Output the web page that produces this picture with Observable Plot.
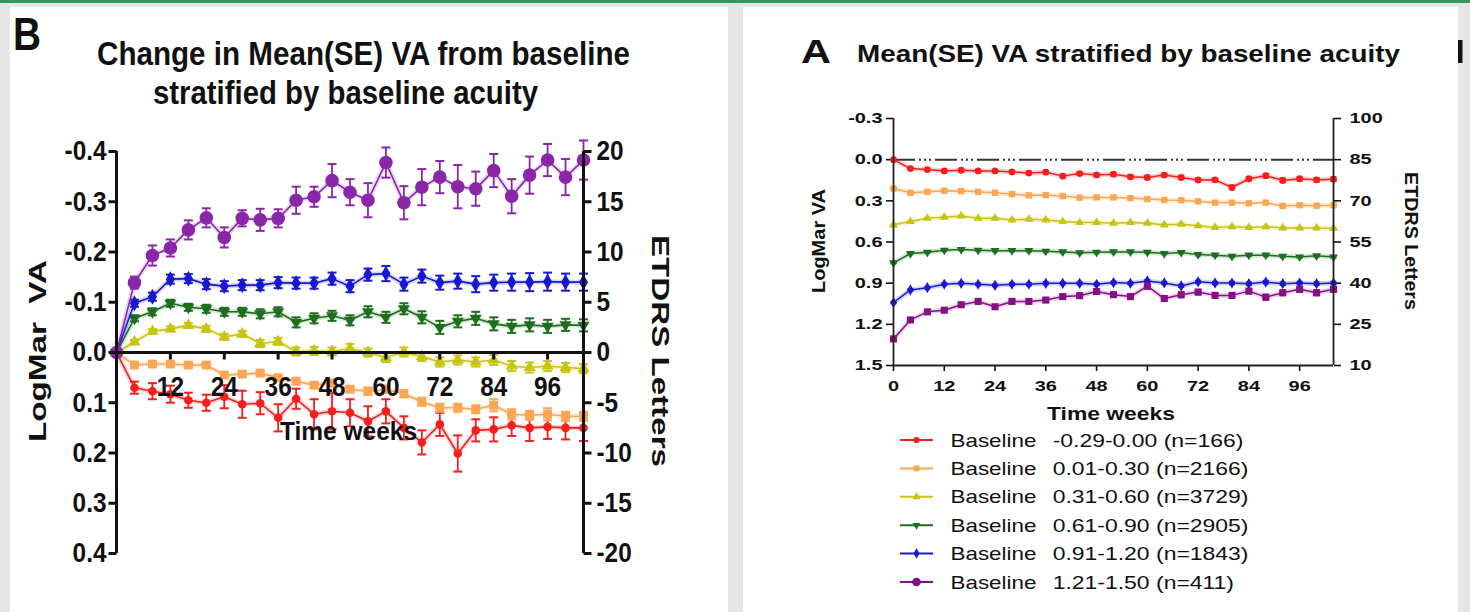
<!DOCTYPE html>
<html><head><meta charset="utf-8">
<script src="https://cdn.jsdelivr.net/npm/d3@7"></script>
<script src="https://cdn.jsdelivr.net/npm/@observablehq/plot@0.6"></script>
<style>
html,body{margin:0;padding:0;background:#e6e6e6;}
#root{position:relative;width:1470px;height:612px;overflow:hidden;background:#e6e6e6;}
.topbar{position:absolute;left:0;top:0;width:1470px;height:3px;background:#2f9a5c;}
.panel{position:absolute;background:#fff;}
.layer{position:absolute;left:0;top:0;}
</style></head><body>
<div id="root">
  <div class="topbar"></div>
  <div class="panel" style="left:10px;top:7px;width:718px;height:605px"></div>
  <div class="panel" style="left:743px;top:7px;width:715px;height:605px"></div>
</div>
<script>
// ---------------- data ----------------
const weeks = [0,4,8,12,16,20,24,28,32,36,40,44,48,52,56,60,64,68,72,76,80,84,88,92,96,100,104];
const groupRanges = ["-0.29-0.00","0.01-0.30","0.31-0.60","0.61-0.90","0.91-1.20","1.21-1.50"];
const groupN = [166,2166,3729,2905,1843,411];

// Panel B: change in LogMar from baseline (mean, SE)
const bRed    = [0,.070,.077,.083,.095,.100,.088,.103,.101,.130,.092,.123,.117,.120,.137,.117,.150,.179,.143,.201,.155,.153,.145,.150,.148,.150,.150];
const bRedSE  = [0,.012,.016,.017,.015,.016,.023,.027,.022,.027,.020,.030,.036,.027,.030,.024,.023,.024,.023,.036,.022,.024,.021,.026,.024,.023,.026];
const bOrange = [0,.025,.023,.023,.025,.025,.045,.043,.041,.050,.057,.065,.061,.073,.077,.073,.082,.098,.110,.110,.113,.105,.123,.125,.123,.127,.127];
const bOrangeSE=[0,.004,.004,.004,.004,.004,.005,.005,.005,.005,.006,.006,.006,.006,.007,.007,.007,.008,.008,.008,.008,.012,.010,.009,.012,.009,.009];
const bYellow = [0,-.021,-.042,-.047,-.054,-.047,-.031,-.037,-.018,-.022,-.002,-.003,-.002,-.008,.000,.010,-.001,.008,.019,.015,.019,.015,.027,.030,.027,.030,.032];
const bYellowSE=[0,.004,.005,.005,.005,.006,.006,.006,.007,.007,.008,.008,.008,.009,.008,.009,.009,.009,.009,.009,.009,.010,.010,.010,.010,.009,.009];
const bGreen  = [0,-.068,-.081,-.098,-.090,-.087,-.081,-.081,-.077,-.081,-.060,-.068,-.073,-.064,-.081,-.070,-.087,-.070,-.050,-.062,-.068,-.057,-.052,-.055,-.052,-.055,-.054];
const bGreenSE= [0,.006,.007,.007,.007,.008,.008,.008,.009,.009,.010,.010,.010,.010,.011,.011,.011,.012,.013,.012,.013,.013,.013,.013,.013,.012,.012];
const bBlue   = [0,-.098,-.111,-.146,-.147,-.136,-.132,-.134,-.134,-.139,-.138,-.138,-.147,-.132,-.155,-.157,-.136,-.152,-.139,-.142,-.136,-.139,-.140,-.140,-.141,-.140,-.140];
const bBlueSE = [0,.007,.008,.009,.009,.010,.010,.010,.010,.011,.011,.011,.012,.012,.012,.015,.013,.013,.014,.015,.016,.016,.017,.018,.018,.017,.017];
const bPurple = [0,-.139,-.193,-.208,-.244,-.268,-.229,-.267,-.264,-.267,-.303,-.310,-.342,-.319,-.303,-.378,-.298,-.329,-.349,-.330,-.326,-.362,-.311,-.353,-.383,-.349,-.383];
const bPurpleSE=[0,.012,.020,.017,.019,.019,.020,.016,.022,.018,.027,.020,.033,.026,.034,.030,.033,.036,.032,.043,.034,.033,.034,.037,.032,.036,.039];

// Panel A: mean LogMar VA (mean, SE)
const aRed    = [0,.065,.072,.082,.077,.082,.082,.089,.098,.091,.120,.101,.111,.106,.125,.130,.112,.130,.148,.147,.203,.139,.117,.151,.139,.147,.142];
const aRedSE  = [0,.005,.005,.006,.006,.006,.007,.008,.009,.008,.010,.009,.010,.012,.011,.012,.010,.012,.011,.012,.013,.012,.013,.014,.013,.014,.013];
const aOrange = [.210,.241,.234,.227,.229,.234,.241,.251,.260,.258,.265,.277,.275,.275,.280,.287,.294,.296,.304,.313,.313,.318,.313,.337,.332,.335,.332];
const aOrangeSE=[.004,.004,.004,.004,.004,.004,.004,.005,.005,.005,.005,.005,.005,.005,.005,.006,.006,.006,.006,.006,.006,.006,.006,.006,.006,.006,.006];
const aYellow = [.475,.451,.427,.419,.410,.427,.427,.439,.434,.439,.451,.458,.458,.463,.458,.463,.475,.470,.482,.494,.489,.494,.489,.498,.498,.498,.501];
const aYellowSE=[.003,.003,.003,.003,.003,.003,.003,.004,.004,.004,.004,.004,.004,.004,.004,.004,.004,.004,.005,.005,.005,.005,.005,.005,.005,.005,.005];
const aGreen  = [.752,.684,.675,.660,.655,.660,.663,.663,.663,.667,.672,.679,.675,.672,.672,.675,.684,.677,.692,.696,.704,.696,.696,.704,.709,.701,.709];
const aGreenSE= [.004,.004,.004,.004,.004,.004,.004,.004,.005,.005,.005,.005,.005,.005,.005,.005,.005,.005,.006,.006,.006,.006,.006,.006,.006,.006,.006];
const aBlue   = [1.041,.949,.933,.908,.901,.908,.916,.908,.908,.901,.901,.901,.908,.896,.901,.884,.898,.920,.890,.899,.899,.904,.892,.904,.899,.904,.899];
const aBlueSE = [.006,.006,.006,.006,.006,.006,.006,.006,.007,.007,.007,.007,.007,.007,.008,.008,.008,.008,.008,.008,.009,.009,.009,.009,.009,.009,.009];
const aPurple = [1.306,1.168,1.109,1.097,1.057,1.033,1.072,1.033,1.033,1.023,.998,.991,.961,.984,.998,.922,1.012,.985,.965,.989,.989,.958,1.002,.970,.945,.970,.945];
const aPurpleSE=[.010,.010,.010,.010,.011,.011,.012,.012,.012,.013,.013,.014,.016,.015,.016,.018,.017,.017,.017,.018,.017,.017,.018,.018,.018,.018,.018];

// tick labels
const bYTicks = [-0.4,-0.3,-0.2,-0.1,0,0.1,0.2,0.3,0.4];
const bXTicks = [12,24,36,48,60,72,84,96];
const aYTicks = [-0.3,0,0.3,0.6,0.9,1.2,1.5];
const aXTicks = [0,12,24,36,48,60,72,84,96];

// ---------------- helpers ----------------
const FONT = '"Liberation Sans", Arial, Helvetica, sans-serif';
const triDown = {draw(ctx, size){ const y = Math.sqrt(size/(Math.sqrt(3)*3)); const x = y*Math.sqrt(3);
  ctx.moveTo(0, 2*y); ctx.lineTo(x, -y); ctx.lineTo(-x, -y); ctx.closePath(); }};
const capSym = half => ({draw(ctx){ ctx.moveTo(-half, 0); ctx.lineTo(half, 0); }});
const vTick = len => ({draw(ctx){ ctx.moveTo(0, 0); ctx.lineTo(0, len); }});
const hTick = len => ({draw(ctx){ ctx.moveTo(0, 0); ctx.lineTo(len, 0); }});

function rows(vals, ses){ return weeks.map((w,i)=>({week:w, v:vals[i], se:ses[i]})); }

function seriesMarks(s, capHalf, lineW){
  const data = rows(s.vals, s.se);
  const eb = data.filter(d => d.se > 0);
  return [
    Plot.line(data, {x:"week", y:"v", stroke:s.color, strokeWidth:5, strokeOpacity:0.18}),
    Plot.line(data, {x:"week", y:"v", stroke:s.color, strokeWidth:lineW}),
    Plot.ruleX(eb, {x:"week", y1:d=>d.v-d.se, y2:d=>d.v+d.se, stroke:s.color, strokeWidth:1.8}),
    Plot.dot(eb, {x:"week", y:d=>d.v-d.se, symbol:capSym(capHalf), stroke:s.color, strokeWidth:2, r:1}),
    Plot.dot(eb, {x:"week", y:d=>d.v+d.se, symbol:capSym(capHalf), stroke:s.color, strokeWidth:2, r:1}),
    Plot.dot(data, {x:"week", y:"v", symbol:s.symbol, fill:s.color, r:s.r})
  ];
}

function compress(svg, factor){
  svg.querySelectorAll("text").forEach(t => {
    const L = t.getComputedTextLength();
    if (L > 0){ t.setAttribute("textLength", (L*factor).toFixed(2)); t.setAttribute("lengthAdjust","spacingAndGlyphs"); }
  });
}

const root = document.getElementById("root");

// ---------------- Panel B ----------------
const bSeries = [
  {vals:bRed, se:bRedSE, color:"#f41e1e", symbol:"circle", r:4.3},
  {vals:bOrange, se:bOrangeSE, color:"#fba653", symbol:"square", r:5},
  {vals:bYellow, se:bYellowSE, color:"#c9c414", symbol:"triangle", r:4.5},
  {vals:bGreen, se:bGreenSE, color:"#1f6e1f", symbol:triDown, r:4.5},
  {vals:bBlue, se:bBlueSE, color:"#1818d2", symbol:"diamond", r:4.8},
  {vals:bPurple, se:bPurpleSE, color:"#8a26a8", symbol:"circle", r:6.8}
];
const axisFontB = {fontSize:28, fontWeight:"bold", fontFamily:FONT, fill:"#111"};
const plotB = Plot.plot({
  width:740, height:612,
  marginLeft:116, marginRight:157, marginTop:151, marginBottom:59,
  style:{background:"transparent", overflow:"visible", fontFamily:FONT, color:"#111"},
  x:{domain:[0,104], axis:null},
  y:{domain:[0.4,-0.4], axis:null},
  marks:[
    Plot.axisY({anchor:"left", ticks:bYTicks, tickSize:0, tickPadding:10, label:null,
      tickFormat:d=>d.toFixed(1), ...axisFontB}),
    Plot.axisY({anchor:"right", ticks:bYTicks, tickSize:0, tickPadding:13, label:null,
      tickFormat:d=>String(Math.round(-50*d)+0), ...axisFontB}),
    ...bSeries.flatMap(s => seriesMarks(s, 4.5, 1.6)),
    Plot.ruleY([0], {stroke:"#111", strokeWidth:3}),
    Plot.ruleX([0], {stroke:"#111", strokeWidth:3}),
    Plot.ruleX([104], {stroke:"#111", strokeWidth:3}),
    Plot.dot(bYTicks, {x:0, y:d=>d, symbol:hTick(-8), stroke:"#111", strokeWidth:3, r:1}),
    Plot.dot(bYTicks, {x:104, y:d=>d, symbol:hTick(8), stroke:"#111", strokeWidth:3, r:1}),
    Plot.dot(bXTicks, {x:d=>d, y:0, symbol:vTick(7), stroke:"#111", strokeWidth:3, r:1}),
    Plot.text(bXTicks, {x:d=>d, y:0, dy:35, text:d=>String(d), ...axisFontB})
  ]
});
plotB.classList.add("layer");
root.appendChild(plotB);
compress(plotB, 0.87);

// ---------------- Panel A ----------------
const aSeries = [
  {vals:aRed, se:aRedSE, color:"#f41e1e", symbol:"circle", r:3.4},
  {vals:aOrange, se:aOrangeSE, color:"#fba653", symbol:"square", r:3.6},
  {vals:aYellow, se:aYellowSE, color:"#c9c414", symbol:"triangle", r:3.3},
  {vals:aGreen, se:aGreenSE, color:"#1f6e1f", symbol:triDown, r:3.3},
  {vals:aBlue, se:aBlueSE, color:"#1818d2", symbol:"diamond", r:3.4},
  {vals:aPurple, se:aPurpleSE, color:"#831183", symbol:"square", r:4}
];
const axisFontA = {fontSize:15, fontWeight:"bold", fontFamily:FONT, fill:"#111"};
const plotA = Plot.plot({
  width:1470, height:612,
  marginLeft:893, marginRight:137, marginTop:118, marginBottom:247,
  style:{background:"transparent", overflow:"visible", fontFamily:FONT, color:"#111"},
  x:{domain:[0,104], axis:null},
  y:{domain:[1.5,-0.3], axis:null},
  marks:[
    Plot.ruleY([0], {stroke:"#333", strokeWidth:2, strokeDasharray:"22,4,2,3,2,3,2,4"}),
    Plot.axisY({anchor:"left", ticks:aYTicks, tickSize:7, tickPadding:4, strokeWidth:1.6, label:null,
      tickFormat:d=>d.toFixed(1), ...axisFontA}),
    Plot.axisY({anchor:"right", ticks:aYTicks, tickSize:7, tickPadding:9, strokeWidth:1.6, label:null,
      tickFormat:d=>String(Math.round(85-50*d)), ...axisFontA}),
    Plot.axisX({anchor:"bottom", ticks:aXTicks, tickSize:6, tickPadding:9, strokeWidth:1.6, label:null,
      tickFormat:d=>String(d), ...axisFontA}),
    ...aSeries.flatMap(s => seriesMarks(s, 3, 1.5)),
    Plot.ruleX([0], {stroke:"#222", strokeWidth:1.8}),
    Plot.ruleX([104], {stroke:"#222", strokeWidth:1.8}),
    Plot.ruleY([1.5], {stroke:"#222", strokeWidth:1.8})
  ]
});
plotA.classList.add("layer");
root.appendChild(plotA);
compress(plotA, 1.33);

// ---------------- titles, axis titles, legend ----------------
const ov = d3.select(root).append("svg").attr("class","layer").attr("width",1470).attr("height",612);
function addText(str, o){
  const t = ov.append("text").text(str)
    .attr("font-family", FONT).attr("font-size", o.size).attr("font-weight", o.weight || "bold")
    .attr("fill", "#111").attr("text-anchor", o.anchor || "start").style("white-space","pre");
  if (o.rotate) t.attr("transform", `translate(${o.x},${o.y}) rotate(${o.rotate})`);
  else t.attr("x", o.x).attr("y", o.y);
  if (o.len) t.attr("textLength", o.len).attr("lengthAdjust","spacingAndGlyphs");
  if (o.factor){ const L = t.node().getComputedTextLength(); t.attr("textLength", L*o.factor).attr("lengthAdjust","spacingAndGlyphs"); }
  return t;
}
// Panel B texts
addText("B", {x:13, y:50, size:46, len:28});
addText("Change in Mean(SE) VA from baseline", {x:97, y:65, size:33, len:533});
addText("stratified by baseline acuity", {x:153, y:104, size:33, len:385});
addText("LogMar  VA", {x:46, y:351, size:23, rotate:-90, anchor:"middle", len:182});
addText("ETDRS Letters", {x:652, y:351, size:23, rotate:90, anchor:"middle", len:232});
addText("Time weeks", {x:280, y:440, size:25, len:137});
// Panel A texts
addText("A", {x:801, y:63, size:33, len:30});
addText("Mean(SE) VA stratified by baseline acuity", {x:857, y:62, size:24, len:543});
addText("LogMar VA", {x:825, y:241, size:19, rotate:-90, anchor:"middle", len:104});
addText("ETDRS Letters", {x:1405, y:241, size:18.5, rotate:90, anchor:"middle", len:138});
addText("Time weeks", {x:1047, y:419.5, size:18.5, len:128});
// stem of the next panel's letter, cropped by the image edge
ov.append("rect").attr("x",1458).attr("y",40).attr("width",4.5).attr("height",23).attr("fill","#111");

// legend
const legColors = aSeries.map(s=>s.color);
const legSymbols = [d3.symbolCircle, d3.symbolSquare, d3.symbolTriangle, triDown, d3.symbolDiamond, d3.symbolCircle];
const legSizes = [30, 34, 30, 28, 32, 60];
groupRanges.forEach((rg, i) => {
  const y = 440 + i*28.4;
  ov.append("line").attr("x1",900).attr("x2",933).attr("y1",y).attr("y2",y).attr("stroke",legColors[i]).attr("stroke-width",2);
  ov.append("path").attr("d", d3.symbol(legSymbols[i], legSizes[i])()).attr("transform",`translate(916.5,${y})`).attr("fill",legColors[i]);
  addText("Baseline", {x:950.5, y:y+6.6, size:18.5, weight:"normal", factor:1.21});
  addText(`${rg} (n=${groupN[i]})`, {x:1052.7, y:y+6.6, size:18.5, weight:"normal", factor:1.24});
});
</script>
</body></html>
